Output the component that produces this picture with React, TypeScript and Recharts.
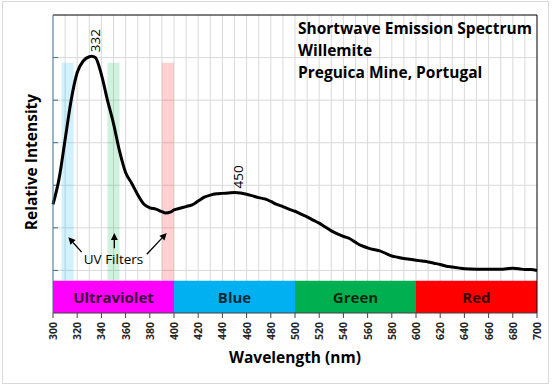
import React from 'react';
import {
  ComposedChart,
  Line,
  XAxis,
  YAxis,
  CartesianGrid,
  ReferenceArea,
  ReferenceLine,
  ReferenceDot,
} from 'recharts';

// ---- data ----
const wavelengths = [
  300, 305, 310, 315, 320, 325, 330, 332, 335, 340, 345, 350, 355, 360, 365, 370, 375, 380, 385, 390,
  393, 397, 400, 405, 410, 415, 420, 425, 430, 435, 440, 445, 450, 455, 460, 465, 470, 475, 480, 485,
  490, 495, 500, 505, 510, 515, 520, 525, 530, 535, 540, 545, 550, 555, 560, 565, 570, 575, 580, 585,
  590, 595, 600, 605, 610, 615, 620, 625, 630, 635, 640, 650, 660, 670, 675, 680, 685, 690, 695, 700,
];
const intensity = [
  1.55, 2.15, 3.07, 4.0, 4.65, 4.92, 5.02, 5.03, 5.0, 4.6, 4.0, 3.45, 2.8, 2.3, 2.05, 1.78, 1.56, 1.47, 1.44, 1.38,
  1.35, 1.37, 1.42, 1.46, 1.5, 1.54, 1.63, 1.72, 1.77, 1.8, 1.81, 1.82, 1.83, 1.82, 1.79, 1.75, 1.71, 1.68, 1.62, 1.55,
  1.5, 1.44, 1.39, 1.32, 1.26, 1.18, 1.11, 1.02, 0.93, 0.86, 0.8, 0.75, 0.66, 0.58, 0.53, 0.49, 0.46, 0.4, 0.34, 0.31,
  0.28, 0.26, 0.24, 0.22, 0.2, 0.17, 0.14, 0.1, 0.08, 0.06, 0.04, 0.03, 0.03, 0.03, 0.04, 0.05, 0.04, 0.02, 0.02, 0.0,
];
const xTickLabels = [300, 320, 340, 360, 380, 400, 420, 440, 460, 480, 500, 520, 540, 560, 580, 600, 620, 640, 660, 680, 700];
const xGridLines = [310, 320, 330, 340, 350, 360, 370, 380, 390, 400, 410, 420, 430, 440, 450, 460, 470, 480, 490, 500,
  510, 520, 530, 540, 550, 560, 570, 580, 590, 600, 610, 620, 630, 640, 650, 660, 670, 680, 690];
const yGridLines = [0, 1, 2, 3, 4, 5];
const yTicks = [0, 1, 2, 3, 4, 5, 6];

const bandNames = ['Ultraviolet', 'Blue', 'Green', 'Red'];
const bandStart = [300, 400, 500, 600];
const bandEnd = [400, 500, 600, 700];
const bandColors = ['#FF00FF', '#00B0F0', '#00B050', '#FF0000'];
const bandBottom = -1;
const bandTop = -0.24;

const filterStart = [307, 345, 390];
const filterEnd = [317, 355, 400];
const filterColors = ['#00B0F0', '#00B050', '#FF0000'];
const filterTop = 4.88;

const peakNm = [332, 450];
const peakVal = [5.03, 1.83];

const arrowFromNm = [323.7, 350.7, 377.5];
const arrowFromVal = [0.43, 0.52, 0.38];
const arrowToNm = [312.7, 350.7, 394];
const arrowToVal = [0.78, 0.88, 0.88];
const filterLabel = 'UV Filters';
const filterLabelNm = 350;
const filterLabelVal = 0.28;

const titleLines = ['Shortwave Emission Spectrum', 'Willemite', 'Preguica Mine, Portugal'];
const xTitle = 'Wavelength (nm)';
const yTitle = 'Relative Intensity';

const FONT = '"Open Sans", sans-serif';
const data = wavelengths.map((w, i) => ({ nm: w, v: intensity[i] }));

const XTick = (props: any) => {
  const { x, y, payload } = props;
  return (
    <text
      transform={`translate(${x},${y + 2}) rotate(-90)`}
      textAnchor="end"
      dominantBaseline="central"
      fontSize={10.5}
      fontWeight="bold"
      fill="#262626"
      fontFamily={FONT}
    >
      {payload.value}
    </text>
  );
};

const EmptyTick = () => <g />;

const Arrow = (props: any) => {
  const { x1, y1, x2, y2 } = props;
  const ang = Math.atan2(y2 - y1, x2 - x1);
  const L = 7;
  const W = 3.5;
  const bx = x2 - L * Math.cos(ang);
  const by = y2 - L * Math.sin(ang);
  const px = -Math.sin(ang) * W;
  const py = Math.cos(ang) * W;
  return (
    <g>
      <line x1={x1} y1={y1} x2={bx} y2={by} stroke="#000" strokeWidth={1.3} />
      <polygon points={`${x2},${y2} ${bx + px},${by + py} ${bx - px},${by - py}`} fill="#000" />
    </g>
  );
};

const PeakLabel = (text: string) => (props: any) => {
  const vb = props.viewBox || {};
  const cx = (vb.x ?? 0) + (vb.width ?? 0) / 2;
  const cy = (vb.y ?? 0) + (vb.height ?? 0) / 2;
  return (
    <text
      transform={`translate(${cx + 3},${cy - 4}) rotate(-90)`}
      textAnchor="start"
      dominantBaseline="central"
      fontSize={13.5}
      fill="#000"
      fontFamily={FONT}
    >
      {text}
    </text>
  );
};

const CenterText = (text: string, size: number, weight: string) => (props: any) => {
  const vb = props.viewBox || {};
  const cx = (vb.x ?? 0) + (vb.width ?? 0) / 2;
  const cy = (vb.y ?? 0) + (vb.height ?? 0) / 2;
  return (
    <text
      x={cx}
      y={cy}
      textAnchor="middle"
      dominantBaseline="central"
      fontSize={size}
      fontWeight={weight}
      fill="#000"
      fillOpacity={weight === 'bold' ? 0.78 : 1}
      fontFamily={FONT}
    >
      {text}
    </text>
  );
};

export default function App() {
  return (
    <div style={{ position: 'absolute', left: 0, top: 0, width: 553, height: 384, background: '#fff', fontFamily: FONT }}>
      <div
        style={{
          position: 'absolute',
          left: 2,
          top: 1,
          width: 547,
          height: 383,
          boxSizing: 'border-box',
          border: '1px solid #D9D9D9',
        }}
      />
      <div style={{ position: 'absolute', left: 0, top: 0 }}>
        <ComposedChart
          width={553}
          height={384}
          data={data}
          margin={{ top: 15, right: 16, left: 0, bottom: 0 }}
        >
          <CartesianGrid
            stroke="#D9D9D9"
            strokeWidth={1}
            horizontalValues={yGridLines}
            verticalValues={xGridLines}
          />
          <XAxis
            dataKey="nm"
            type="number"
            domain={[300, 700]}
            ticks={xTickLabels}
            interval={0}
            height={71}
            tick={<XTick />}
            tickSize={5}
            tickMargin={2}
            axisLine={{ stroke: '#404040' }}
            tickLine={{ stroke: '#404040' }}
          />
          <YAxis
            type="number"
            domain={[-1, 6]}
            ticks={yTicks}
            width={53}
            mirror={false}
            tick={<EmptyTick />}
            tickSize={5}
            axisLine={{ stroke: '#3C6E91' }}
            tickLine={false}
            allowDataOverflow
          />
          {filterStart.map((s, i) => (
            <ReferenceArea
              key={'f' + i}
              x1={s}
              x2={filterEnd[i]}
              y1={bandTop}
              y2={filterTop}
              fill={filterColors[i]}
              fillOpacity={0.18}
              stroke="none"
              isFront={false}
            />
          ))}
          {bandNames.map((n, i) => (
            <ReferenceArea
              key={'b' + i}
              x1={bandStart[i]}
              x2={bandEnd[i]}
              y1={bandBottom}
              y2={bandTop}
              fill={bandColors[i]}
              fillOpacity={1}
              stroke="none"
              label={CenterText(n, 15, 'bold')}
            />
          ))}
          {yGridLines.map((v) => (
            <ReferenceLine
              key={'yt' + v}
              segment={[
                { x: 300, y: v },
                { x: 304.2, y: v },
              ]}
              stroke="#3C6E91"
              strokeWidth={1}
            />
          ))}
          <ReferenceLine y={6} stroke="#000" strokeWidth={1} />
          <ReferenceLine x={700} stroke="#000" strokeWidth={1} />
          {arrowFromNm.map((n, i) => (
            <ReferenceLine
              key={'a' + i}
              segment={[
                { x: n, y: arrowFromVal[i] },
                { x: arrowToNm[i], y: arrowToVal[i] },
              ]}
              shape={<Arrow />}
            />
          ))}
          <ReferenceDot
            x={filterLabelNm}
            y={filterLabelVal}
            r={1}
            fill="none"
            stroke="none"
            label={CenterText(filterLabel, 13.5, 'normal')}
          />
          <Line
            type="monotone"
            dataKey="v"
            stroke="#000"
            strokeWidth={3}
            dot={false}
            activeDot={false}
            isAnimationActive={false}
          />
          {peakNm.map((n, i) => (
            <ReferenceDot
              key={'p' + i}
              x={n}
              y={peakVal[i]}
              r={1}
              fill="none"
              stroke="none"
              label={PeakLabel(String(n))}
            />
          ))}
        </ComposedChart>
      </div>
      <svg
        width={553}
        height={384}
        style={{ position: 'absolute', left: 0, top: 0, pointerEvents: 'none' }}
      >
        {titleLines.map((t, i) => (
          <text
            key={i}
            x={298}
            y={34 + i * 22}
            fontSize={15.5}
            fontWeight="bold"
            fill="#000"
            fontFamily={FONT}
          >
            {t}
          </text>
        ))}
        <text x={295} y={363} textAnchor="middle" fontSize={15.5} fontWeight="bold" fill="#000" fontFamily={FONT}>
          {xTitle}
        </text>
        <text
          transform="translate(37,162) rotate(-90)"
          textAnchor="middle"
          fontSize={15.5}
          fontWeight="bold"
          fill="#000"
          fontFamily={FONT}
        >
          {yTitle}
        </text>
      </svg>
    </div>
  );
}
